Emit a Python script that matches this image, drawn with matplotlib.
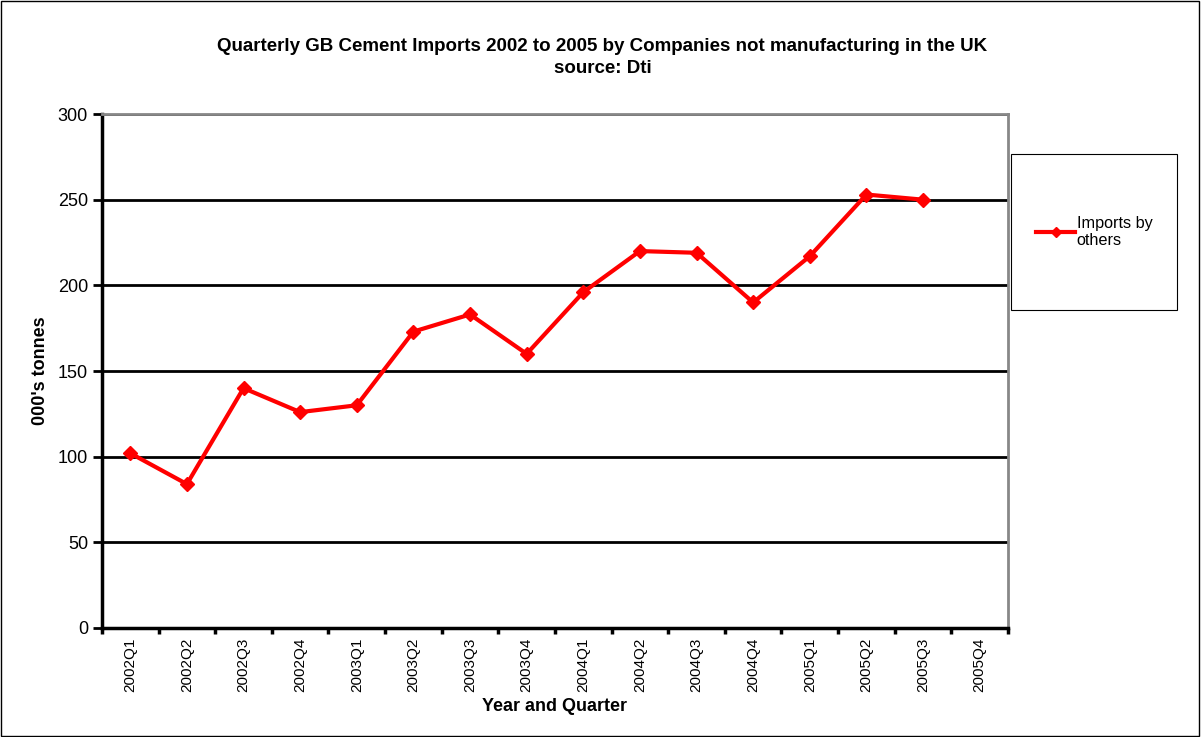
import matplotlib.pyplot as plt
from matplotlib.patches import Rectangle

plt.rcParams['font.family'] = ['Liberation Sans', 'DejaVu Sans']

quarters = ['2002Q1', '2002Q2', '2002Q3', '2002Q4',
            '2003Q1', '2003Q2', '2003Q3', '2003Q4',
            '2004Q1', '2004Q2', '2004Q3', '2004Q4',
            '2005Q1', '2005Q2', '2005Q3', '2005Q4']
# 2005Q4 has no figure yet
imports_by_others = [102, 84, 140, 126, 130, 173, 183, 160,
                     196, 220, 219, 190, 217, 253, 250]

fig = plt.figure(figsize=(12.01, 7.37), dpi=100)
ax = fig.add_axes([0.0849, 0.1479, 0.7544, 0.6974])

xpos = [i + 0.5 for i in range(len(imports_by_others))]
ax.plot(xpos, imports_by_others, color='#ff0000', lw=3, marker='D', ms=7,
        label='Imports by\nothers', solid_joinstyle='miter')

ax.set_xlim(0, len(quarters))
ax.set_ylim(0, 300)
ax.set_yticks(range(0, 301, 50))
ax.yaxis.grid(True, color='black', lw=2)
ax.set_axisbelow(True)

# category labels centred, tick marks on the boundaries
ax.set_xticks([i + 0.5 for i in range(len(quarters))])
ax.set_xticklabels(quarters, rotation=90, fontsize=11)
ax.tick_params(axis='x', which='major', length=0, pad=7)
ax.set_xticks(range(len(quarters) + 1), minor=True)
ax.tick_params(axis='x', which='minor', length=4.5, width=2.5, direction='out')
ax.tick_params(axis='y', length=6.5, width=2, labelsize=13, pad=3.5)

for side in ['left', 'bottom']:
    ax.spines[side].set_linewidth(2.5)
    ax.spines[side].set_color('black')
for side in ['top', 'right']:
    ax.spines[side].set_linewidth(2)
    ax.spines[side].set_color('#888888')

ax.set_xlabel('Year and Quarter', fontsize=13, fontweight='bold', labelpad=4)
ax.set_ylabel("000's tonnes", fontsize=13, fontweight='bold', labelpad=6)

fig.text(0.5017, 0.922, 'Quarterly GB Cement Imports 2002 to 2005 by Companies not manufacturing in the UK\nsource: Dti',
         ha='center', va='center', fontsize=13.5, fontweight='bold', linespacing=1.45)

# legend box
fig.add_artist(Rectangle((1011 / 1201, 1 - 310 / 737), 166 / 1201, 156 / 737,
                         transform=fig.transFigure, fill=False, ec='black', lw=0.8))
ax.legend(loc='center left', bbox_to_anchor=(1036 / 1201, 1 - 232 / 737),
          bbox_transform=fig.transFigure, frameon=False, fontsize=11.7,
          handlelength=2.4, handletextpad=0.1, borderpad=0, borderaxespad=0,
          markerscale=0.8)

# outer chart border
fig.add_artist(Rectangle((0.001, 0.001), 0.997, 0.997, transform=fig.transFigure,
                         fill=False, ec='black', lw=1))

fig.savefig('out.png', dpi=100)
